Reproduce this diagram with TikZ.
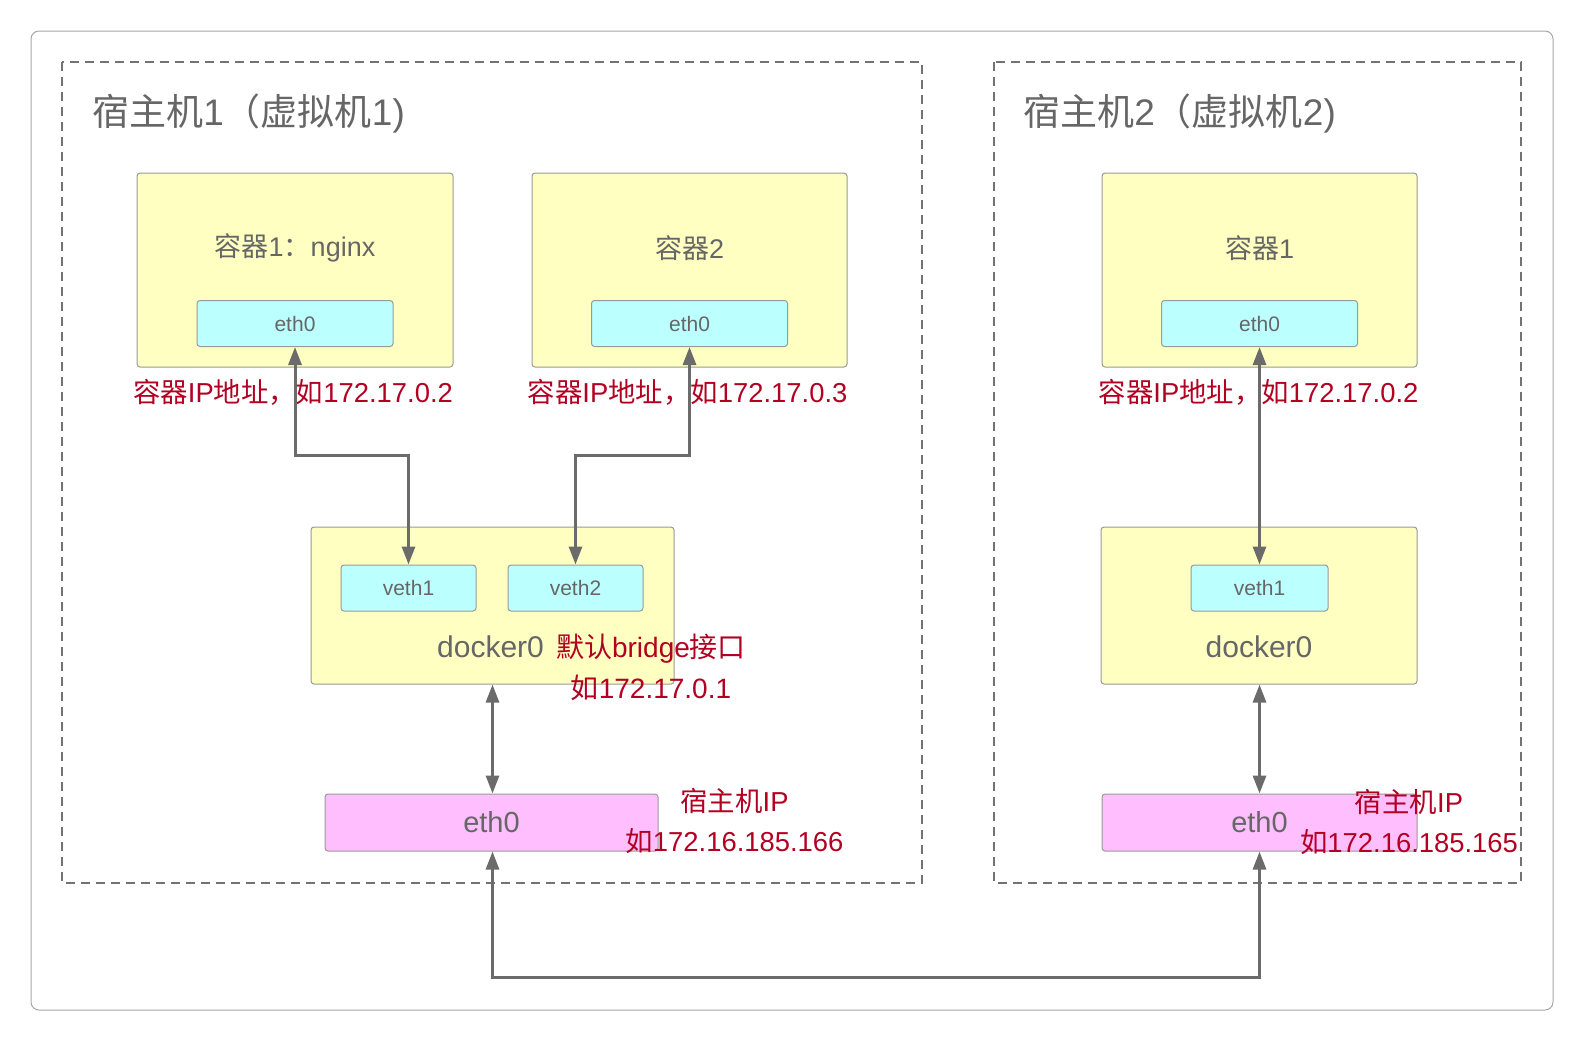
\documentclass[tikz,border=0pt]{standalone}
\usepackage{fontspec}
\setmainfont{Liberation Sans}
\newfontfamily\cjk{Noto Sans CJK SC}
\usetikzlibrary{arrows.meta, positioning}

\definecolor{boxyellow}{RGB}{255,255,194}
\definecolor{ifcyan}{RGB}{187,255,255}
\definecolor{ifpink}{RGB}{255,191,255}
\definecolor{ipred}{RGB}{178,0,34}
\definecolor{txtgray}{RGB}{102,102,102}
\definecolor{linegray}{RGB}{107,107,107}

\begin{document}
\begin{tikzpicture}[x=0.5pt,y=-0.5pt,>={Triangle[length=9pt,width=6.5pt]},
	box/.style={draw=black!40, fill=boxyellow, rounded corners=1.5pt, line width=0.5pt, inner sep=0pt},
	iface/.style={draw=black!40, fill=ifcyan, rounded corners=1.5pt, line width=0.5pt, inner sep=0pt,
		minimum height=23pt, text=txtgray, font=\fontsize{10.5}{12}\selectfont},
	hostif/.style={draw=black!40, fill=ifpink, rounded corners=1.5pt, line width=0.5pt, inner sep=0pt,
		minimum height=28.5pt, text=txtgray, font=\fontsize{14.5}{16}\selectfont},
	boxtext/.style={text=txtgray, inner sep=0pt, font=\fontsize{13.5}{16}\selectfont},
	hosttitle/.style={text=txtgray, inner sep=0pt, anchor=west, font=\fontsize{18.5}{22}\selectfont},
	iplabel/.style={text=ipred, inner sep=0pt, align=center, font=\fontsize{13.7}{20}\selectfont},
	link/.style={<->, line width=1.5pt, draw=linegray},
	hostframe/.style={draw=black!55, line width=0.75pt, dash pattern=on 4.5pt off 3pt}]

	\useasboundingbox (0,0) rectangle (1583,1041);
	\draw [black!35, line width=0.5pt, rounded corners=4pt] (31,31) rectangle (1553,1010);

	\draw [hostframe] (62,62) rectangle (922,883);
	\draw [hostframe] (994,62) rectangle (1521,883);

	\node (t1)
		[hosttitle] at (92,113) {{\cjk 宿主机}1{\cjk （虚拟机}1)};
	\node (t2)
		[hosttitle] at (1023,113) {{\cjk 宿主机}2{\cjk （虚拟机}2)};

	% host 1
	\node (c1)
		[box, minimum width=158pt, minimum height=97pt] at (295,270) {};
		\node (c1t)
			[boxtext] at (295,248) {{\cjk 容器}1{\cjk ：}nginx};
		\node (c1e)
			[iface, minimum width=98pt] at (295,323.5) {eth0};
	\node (c2)
		[box, minimum width=157.5pt, minimum height=97pt] at (689.5,270) {};
		\node (c2t)
			[boxtext] at (689.5,248) {{\cjk 容器}2};
		\node (c2e)
			[iface, minimum width=98pt] at (689.5,323.5) {eth0};

	\node (d1)
		[box, minimum width=181.5pt, minimum height=78.5pt] at (492.5,605.5) {};
		\node (v11)
			[iface, minimum width=67.5pt] at (408.5,588) {veth1};
		\node (v12)
			[iface, minimum width=67.5pt, right=83.5pt of v11.center, anchor=center] {veth2};
		\node (d1t)
			[boxtext, font=\fontsize{15}{16}\selectfont] at (490.5,647) {docker0};

	\node (h1e)
		[hostif, minimum width=166.5pt] at (491.5,822.5) {eth0};

	\node (c1ip)
		[iplabel] at (293,392) {{\cjk 容器}IP{\cjk 地址，如}172.17.0.2};
	\node (c2ip)
		[iplabel] at (687.5,392) {{\cjk 容器}IP{\cjk 地址，如}172.17.0.3};
	\node (d1ip)
		[iplabel, font=\fontsize{14}{20.5}\selectfont] at (651,667.5) {{\cjk 默认}bridge{\cjk 接口}\\{\cjk 如}172.17.0.1};
	\node (h1ip)
		[iplabel] at (734.5,821) {{\cjk 宿主机}IP\\{\cjk 如}172.16.185.166};

	% host 2
	\node (c3)
		[box, minimum width=157.5pt, minimum height=97pt] at (1259.5,270) {};
		\node (c3t)
			[boxtext] at (1259.5,248) {{\cjk 容器}1};
		\node (c3e)
			[iface, minimum width=98pt] at (1259.5,323.5) {eth0};

	\node (d2)
		[box, minimum width=158pt, minimum height=78.5pt] at (1259,605.5) {};
		\node (v21)
			[iface, minimum width=68.5pt] at (1259.5,588) {veth1};
		\node (d2t)
			[boxtext, font=\fontsize{15}{16}\selectfont] at (1259,647) {docker0};

	\node (h2e)
		[hostif, minimum width=157.5pt] at (1259.5,822.5) {eth0};

	\node (c3ip)
		[iplabel] at (1258.5,392) {{\cjk 容器}IP{\cjk 地址，如}172.17.0.2};
	\node (h2ip)
		[iplabel] at (1409,821.5) {{\cjk 宿主机}IP\\{\cjk 如}172.16.185.165};

	\coordinate (m1) at (0,455);
	\coordinate (m2) at (0,977);

	\draw [link] (c1e.south) -- (c1e.south |- m1) -| (v11.north);
	\draw [link] (c2e.south) -- (c2e.south |- m1) -| (v12.north);
	\draw [link] (c3e.south) -- (v21.north);
	\draw [link] (d1.south) -- (h1e.north -| d1.south);
	\draw [link] (d2.south -| h2e.north) -- (h2e.north);
	\draw [link] (h1e.south -| d1.south) -- (d1.south |- m2) -| (h2e.south);
\end{tikzpicture}
\end{document}
